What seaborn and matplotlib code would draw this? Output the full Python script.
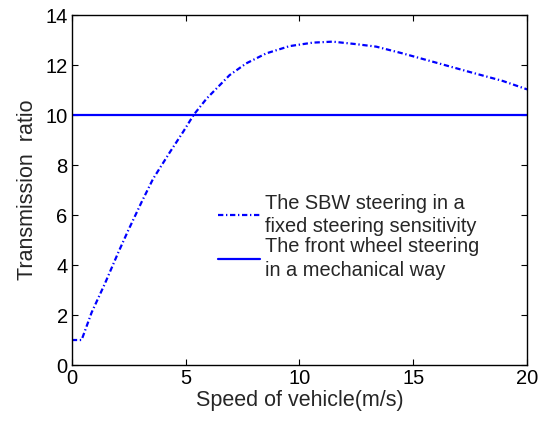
import matplotlib
matplotlib.use("Agg")
import matplotlib.pyplot as plt
import seaborn as sns
import pandas as pd

# Data
speed_sbw = [0.0, 0.43, 0.87, 1.45, 2.04, 2.47, 3.06, 3.57, 4.31, 4.89, 5.36,
             5.92, 6.93, 7.66, 8.54, 9.56, 10.58, 11.46, 12.49, 13.37, 14.53,
             16.0, 17.46, 18.92, 20.0]
ratio_sbw = [1.0, 1.0, 2.1, 3.25, 4.5, 5.37, 6.51, 7.45, 8.52, 9.33, 10.02,
             10.66, 11.6, 12.07, 12.47, 12.76, 12.9, 12.94, 12.84, 12.74, 12.47,
             12.1, 11.73, 11.37, 11.03]
speed_mech = [0.0, 20.0]
ratio_mech = [10.0, 10.0]

label_sbw = "The SBW steering in a\nfixed steering sensitivity"
label_mech = "The front wheel steering\nin a mechanical way"
x_label = "Speed of vehicle(m/s)"
y_label = "Transmission  ratio"
x_ticks = [0, 5, 10, 15, 20]
y_ticks = [0, 2, 4, 6, 8, 10, 12, 14]

sns.set_theme(style="ticks")
plt.rcParams["font.family"] = ["Liberation Sans", "DejaVu Sans"]
plt.rcParams.update({
    "xtick.direction": "in", "ytick.direction": "in",
    "xtick.top": True, "ytick.right": True,
    "xtick.major.size": 4, "ytick.major.size": 4,
    "xtick.major.width": 0.8, "ytick.major.width": 0.8,
})

fig = plt.figure(figsize=(5.44, 4.21), dpi=100)
ax = fig.add_axes([0.132, 0.133, 0.837, 0.831])

df_sbw = pd.DataFrame({"speed": speed_sbw, "ratio": ratio_sbw})
df_mech = pd.DataFrame({"speed": speed_mech, "ratio": ratio_mech})

sns.lineplot(data=df_sbw, x="speed", y="ratio", ax=ax, color="#0000ff",
             linewidth=1.6, label=label_sbw, dashes=False)
ax.lines[-1].set_dashes((2.4, 1.2, 0.6, 1.2))
sns.lineplot(data=df_mech, x="speed", y="ratio", ax=ax, color="#0000ff",
             linestyle="-", linewidth=1.6, label=label_mech)

ax.set_xlim(0, 20)
ax.set_ylim(0, 14)
ax.set_xticks(x_ticks)
ax.set_yticks(y_ticks)
ax.tick_params(labelsize=14.5, colors="black", pad=3)
ax.set_xlabel(x_label, fontsize=15.5, labelpad=1)
ax.set_ylabel(y_label, fontsize=15.5, labelpad=5)
for s in ax.spines.values():
    s.set_color("black")
    s.set_linewidth(1.0)

leg = ax.legend(loc="upper left", bbox_to_anchor=(0.322, 0.49), frameon=False,
                fontsize=14.4, handlelength=2.1, handletextpad=0.25,
                labelspacing=0.05, borderaxespad=0, borderpad=0)
for t in leg.get_texts():
    t.set_linespacing(1.3)

fig.savefig("out.png", dpi=100)
